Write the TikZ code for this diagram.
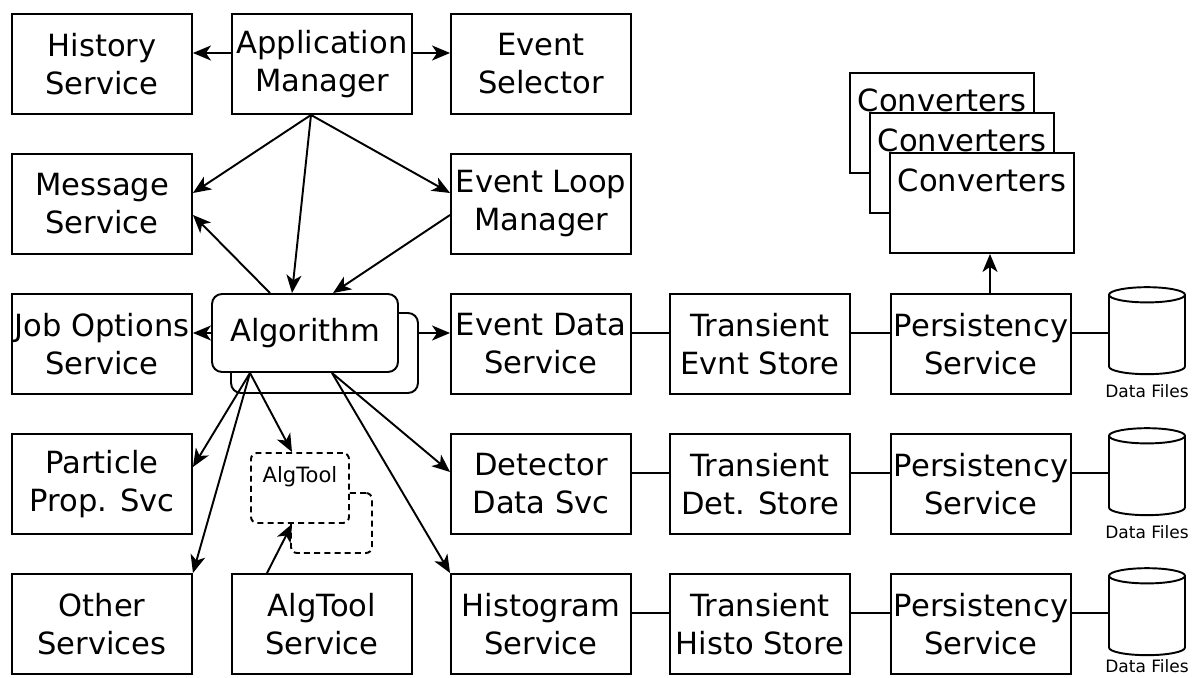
\documentclass[tikz,border=0pt]{standalone}
\usepackage{fontspec}
\setmainfont{DejaVu Sans}
\usetikzlibrary{shapes.geometric,arrows.meta}

\tikzstyle{block} = [rectangle, draw, line width=1.1pt, minimum width=3.6cm, minimum height=2cm, align=center, inner sep=0pt, font=\fontsize{17.4}{21.6}\selectfont]
\tikzstyle{convblock} = [block, fill=white, minimum width=3.68cm, label={[anchor=north, inner sep=9.5pt, font=\fontsize{17.4}{21.6}\selectfont]north:Converters}]
\tikzstyle{algblock} = [rectangle, draw, line width=1.1pt, rounded corners=0.2cm, fill=white, font=\fontsize{17.4}{21.6}\selectfont]
\tikzstyle{toolblock} = [rectangle, draw, line width=1.1pt, dash pattern=on 3.4pt off 2.4pt, rounded corners=0.12cm, fill=white]
\tikzstyle{store} = [cylinder, shape border rotate=90, draw, line width=1.1pt, aspect=1.3, minimum width=1.52cm, minimum height=1.74cm]
\tikzstyle{link} = [line width=1.1pt, -{Stealth[length=3.6mm, width=3mm, inset=1mm]}]
\tikzstyle{wire} = [line width=1.1pt]

\begin{document}
\begin{tikzpicture}[x=0.02cm, y=-0.02cm]
        \useasboundingbox (0,0) rectangle (1193,678);
        % left column of services
        \node (history) at (102,64) [block] {History\\Service};
        \node (msgsvc) at (102,204) [block] {Message\\Service};
        \node (jobopt) at (102,344) [block] {Job Options\\Service};
        \node (partprop) at (102,484) [block] {Particle\\Prop. Svc};
        \node (other) at (102,624) [block] {Other\\Services};
        % manager and selectors
        \node (appmgr) at (322,64) [block] {Application\\Manager};
        \node (evsel) at (541,64) [block] {Event\\Selector};
        \node (evloop) at (541,204) [block] {Event Loop\\Manager};
        \node (algtoolsvc) at (322,624) [block] {AlgTool\\Service};
        % data services, stores, persistency
        \node (evds) at (541,344) [block] {Event Data\\Service};
        \node (detds) at (541,484) [block] {Detector\\Data Svc};
        \node (histsvc) at (541,624) [block] {Histogram\\Service};
        \node (tevs) at (760,344) [block] {Transient\\Evnt Store};
        \node (tdet) at (760,484) [block] {Transient\\Det. Store};
        \node (thisto) at (760,624) [block] {Transient\\Histo Store};
        \node (pers1) at (981,344) [block] {Persistency\\Service};
        \node (pers2) at (981,484) [block] {Persistency\\Service};
        \node (pers3) at (981,624) [block] {Persistency\\Service};
        \node (df1) at (1147,337) [store, label={[font=\fontsize{9.7}{12}\selectfont, inner sep=5pt]below:Data Files}] {};
        \node (df2) at (1147,478) [store, label={[font=\fontsize{9.7}{12}\selectfont, inner sep=5pt]below:Data Files}] {};
        \node (df3) at (1147,618) [store, label={[font=\fontsize{9.7}{12}\selectfont, inner sep=1.5pt]below:Data Files}] {};
        % stacked converters
        \node (conv1) at (942,123) [convblock] {};
        \node (conv2) at (962,163) [convblock] {};
        \node (conv3) at (982,203) [convblock] {};
        % algorithm and tools, back copy first
        \node (algoback) at (324.5,353) [algblock, minimum width=3.74cm, minimum height=1.6cm] {};
        \node (algo) at (305,333) [algblock, minimum width=3.72cm, minimum height=1.56cm] {Algorithm};
        \node (algtoolback) at (331.5,523) [toolblock, minimum width=1.62cm, minimum height=1.2cm] {};
        \node (algtool) at (300,488) [toolblock, minimum width=1.96cm, minimum height=1.4cm, label={[anchor=north, inner sep=8pt, font=\fontsize{12}{14}\selectfont]north:AlgTool}] {};

        \draw[link] ([yshift=0.22cm]appmgr.west) -- ([yshift=0.22cm]history.east);
        \draw[link] ([yshift=0.22cm]appmgr.east) -- ([yshift=0.22cm]evsel.west);
        \draw[link] ([xshift=-0.22cm]appmgr.south) -- ([yshift=0.22cm]msgsvc.east);
        \draw[link] ([xshift=-0.22cm]appmgr.south) -- ([yshift=0.22cm]evloop.west);
        \draw[link] ([xshift=-0.22cm]appmgr.south) -- ([xshift=-0.26cm]algo.north);
        \draw[link] ([xshift=-0.7cm]algo.north) -- ([yshift=-0.22cm]msgsvc.east);
        \draw[link] ([yshift=-0.22cm]evloop.west) -- ([xshift=0.56cm]algo.north);
        \draw[link] (algo.west) -- (algo.west -| jobopt.east);
        \draw[link] (algoback.east |- algo.east) -- (algo.east -| evds.west);
        \draw[link] ([xshift=-1.1cm]algo.south) -- ([yshift=0.34cm]partprop.east);
        \draw[link] ([xshift=-1.1cm]algo.south) -- (other.north east);
        \draw[link] ([xshift=-1.1cm]algo.south) -- ([xshift=-0.16cm]algtool.north);
        \draw[link] ([xshift=0.54cm]algo.south) -- ([yshift=0.24cm]detds.west);
        \draw[link] ([xshift=0.54cm]algo.south) -- (histsvc.north west);
        \draw[link] ([xshift=-1.1cm]algtoolsvc.north) -- ([xshift=-0.16cm]algtool.south);
        \draw[link] ([xshift=0.18cm]pers1.north) -- ([xshift=0.18cm]pers1.north |- conv3.south);

        % store chains
        \foreach \a/\b in {evds/tevs, tevs/pers1, pers1/df1, detds/tdet, tdet/pers2, pers2/df2, histsvc/thisto, thisto/pers3, pers3/df3}
            \draw[wire] ([yshift=0.22cm]\a.east) -- ([yshift=0.22cm]\a.east -| \b.west);
    \end{tikzpicture}
\end{document}
